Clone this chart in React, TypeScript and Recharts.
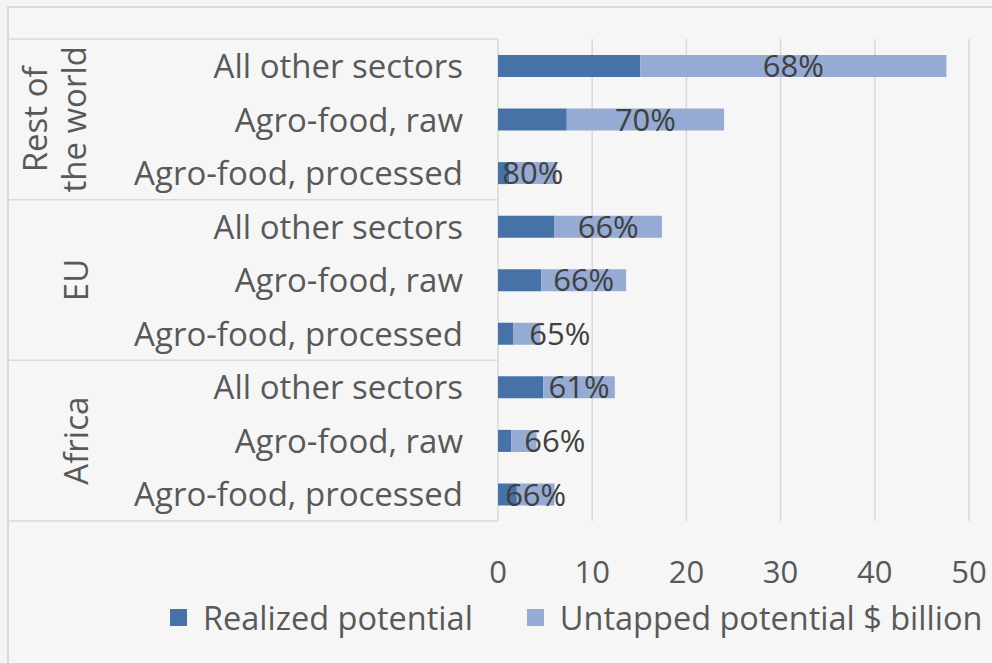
import React from 'react';
import { BarChart, Bar, XAxis, YAxis, CartesianGrid, Legend, LabelList } from 'recharts';

// rows top to bottom
const regions = ['Rest of\nthe world', 'EU', 'Africa'];
const sectors = ['All other sectors', 'Agro-food, raw', 'Agro-food, processed'];
const realized = [15.1, 7.3, 1.2, 6.0, 4.6, 1.6, 4.8, 1.4, 2.0];
const untapped = [32.5, 16.7, 5.0, 11.4, 9.0, 2.9, 7.6, 2.7, 4.0];
const shares = ['68%', '70%', '80%', '66%', '66%', '65%', '61%', '66%', '66%'];
const xTicks = [0, 10, 20, 30, 40, 50];

const data = realized.map((r, i) => ({
  id: `${regions[Math.floor(i / sectors.length)]}|${sectors[i % sectors.length]}`,
  sector: sectors[i % sectors.length],
  realized: r,
  untapped: untapped[i],
  share: shares[i],
}));

const W = 992;
const H = 663;
const PLOT_TOP = 39;
const PLOT_BOTTOM = 521;
const PLOT_LEFT = 498;
const FONT = '"Open Sans", sans-serif';
const TEXT = '#595959';
const LINE = '#d9d9d9';
const DARK = '#4672a8';
const LIGHT = '#95abd3';

// a couple of labels were nudged right in the original to clear the bars
const labelNudge: Record<number, number> = { 5: 33, 7: 31 };

const band = (PLOT_BOTTOM - PLOT_TOP) / data.length;

function CategoryTick(props: any) {
  const { y, payload } = props;
  const i = payload.index ?? props.index;
  const row = data[i];
  const g = Math.floor(i / 3);
  const lines = regions[g].split('\n');
  return (
    <g>
      <text x={PLOT_LEFT - 35} y={y} dy="0.37em" textAnchor="end" fontSize={33} fill={TEXT} fontFamily={FONT}>
        {row ? row.sector : ''}
      </text>
      {i % 3 === 0 && (
        <line x1={8} x2={PLOT_LEFT} y1={y - band / 2} y2={y - band / 2} stroke={LINE} strokeWidth={1.5} />
      )}
      {i === data.length - 1 && (
        <line x1={8} x2={PLOT_LEFT} y1={y + band / 2} y2={y + band / 2} stroke={LINE} strokeWidth={1.5} />
      )}
      {i % 3 === 1 &&
        lines.map((t, k) => {
          const cx = lines.length === 1 ? 76 : 35 + k * 39;
          return (
            <text
              key={k}
              x={cx}
              y={y}
              dy="0.36em"
              textAnchor="middle"
              fontSize={33}
              fill={TEXT}
              fontFamily={FONT}
              transform={`rotate(-90 ${cx} ${y})`}
            >
              {t}
            </text>
          );
        })}
    </g>
  );
}

function ShareLabel(props: any) {
  const { x, y, width, height, value, index } = props;
  const nudge = labelNudge[index] || 0;
  return (
    <text
      x={x + width / 2 + nudge}
      y={y + height / 2}
      dy="0.36em"
      textAnchor="middle"
      fontSize={31}
      fill="#404040"
      fontFamily={FONT}
    >
      {value}
    </text>
  );
}

function LegendContent(props: any) {
  const { payload } = props;
  return (
    <div style={{ display: 'flex', alignItems: 'center', height: 40, paddingLeft: 162, fontFamily: FONT, fontSize: 32.5, color: TEXT, whiteSpace: 'nowrap' }}>
      {(payload || []).map((p: any, k: number) => (
        <div key={k} style={{ display: 'flex', alignItems: 'center', marginRight: 54 }}>
          <span style={{ width: 17, height: 17, background: p.color, marginRight: 16, display: 'inline-block' }} />
          <span>{p.value}</span>
        </div>
      ))}
    </div>
  );
}

export default function App() {
  return (
    <div style={{ position: 'absolute', left: 0, top: 0, width: W, height: H, background: '#f4f4f4', overflow: 'hidden' }}>
      <div
        style={{
          position: 'absolute',
          left: 7,
          top: 6,
          right: 0,
          bottom: 0,
          borderTop: `2px solid ${LINE}`,
          borderLeft: `2px solid ${LINE}`,
          background: '#f6f6f6',
        }}
      />
      <div style={{ position: 'absolute', left: 0, top: 0 }}>
        <BarChart
          width={W}
          height={H}
          data={data}
          layout="vertical"
          barSize={22}
          margin={{ top: PLOT_TOP, right: 23, left: 8, bottom: 26 }}
        >
          <CartesianGrid horizontal={false} stroke={LINE} strokeWidth={1.5} />
          <XAxis
            type="number"
            domain={[0, 50]}
            ticks={xTicks}
            axisLine={false}
            tickLine={false}
            tickSize={0}
            tickMargin={40}
            height={76}
            tick={{ fontSize: 31, fill: TEXT, fontFamily: FONT }}
          />
          <YAxis
            type="category"
            dataKey="id"
            width={PLOT_LEFT - 8}
            axisLine={false}
            tickLine={false}
            interval={0}
            tick={<CategoryTick />}
          />
          <Legend verticalAlign="bottom" content={<LegendContent />} />
          <Bar dataKey="realized" name="Realized potential" stackId="a" fill={DARK} isAnimationActive={false} />
          <Bar dataKey="untapped" name="Untapped potential $ billion" stackId="a" fill={LIGHT} isAnimationActive={false}>
            <LabelList dataKey="share" content={<ShareLabel />} />
          </Bar>
        </BarChart>
      </div>
    </div>
  );
}
